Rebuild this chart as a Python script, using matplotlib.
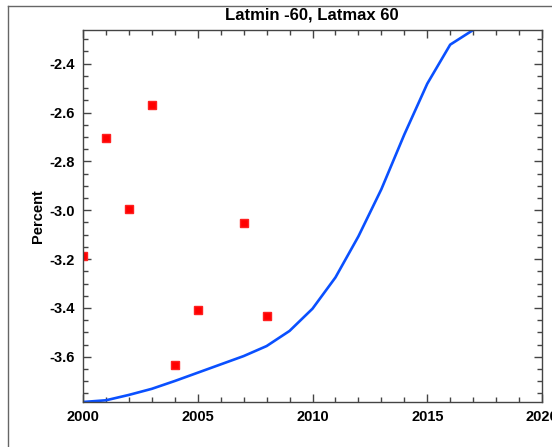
import matplotlib
matplotlib.use("Agg")
import matplotlib.pyplot as plt
from matplotlib.lines import Line2D
from matplotlib.ticker import MultipleLocator

plt.rcParams['font.family'] = ['Liberation Sans', 'DejaVu Sans']
plt.rcParams['font.weight'] = 'bold'

# observed points (red)
obsYears = [2000, 2001, 2002, 2003, 2004, 2005, 2007, 2008]
obsValues = [-3.187, -2.703, -2.996, -2.570, -3.633, -3.407, -3.051, -3.433]

# model curve (blue)
modelYears = list(range(2000, 2018))
modelValues = [-3.785, -3.778, -3.756, -3.731, -3.699, -3.665, -3.631, -3.597,
               -3.556, -3.494, -3.403, -3.275, -3.107, -2.914, -2.690, -2.482,
               -2.322, -2.262]

W, H = 552, 447
fig = plt.figure(figsize=(W / 100, H / 100), dpi=100)
ax = fig.add_axes([83 / W, 1 - 402 / H, (542 - 83) / W, (402 - 30) / H])

ax.plot(modelYears, modelValues, color='#0a50ff', lw=1.9)
ax.plot(obsYears, obsValues, 's', color='#ff0000', ms=6, mec='#ff2020')

ax.set_xlim(2000, 2020)
ax.set_ylim(-3.785, -2.262)
ax.xaxis.set_major_locator(MultipleLocator(5))
ax.xaxis.set_minor_locator(MultipleLocator(1))
ax.yaxis.set_major_locator(MultipleLocator(0.2))
ax.yaxis.set_minor_locator(MultipleLocator(0.05))
ax.yaxis.set_major_formatter(plt.FuncFormatter(lambda v, p: '%.1f' % v))

ax.tick_params(which='both', direction='in', top=True, right=True,
               color='#444444', width=1, labelsize=10.5, pad=6)
ax.tick_params(which='major', length=6)
ax.tick_params(which='minor', length=3.5)
for s in ax.spines.values():
    s.set_color('#444444')
    s.set_linewidth(1)

ax.set_ylabel('Percent', fontsize=10.5, fontweight='bold', labelpad=3)
fig.text(312 / W, 1 - 15 / H, 'Latmin -60, Latmax 60', fontsize=12,
         fontweight='bold', ha='center', va='center')

# window frame lines
fig.add_artist(Line2D([8 / W, 1], [1 - 6 / H, 1 - 6 / H], color='#666666', lw=1))
fig.add_artist(Line2D([8 / W, 8 / W], [0, 1 - 6 / H], color='#666666', lw=1))

fig.savefig('out.png', dpi=100)
